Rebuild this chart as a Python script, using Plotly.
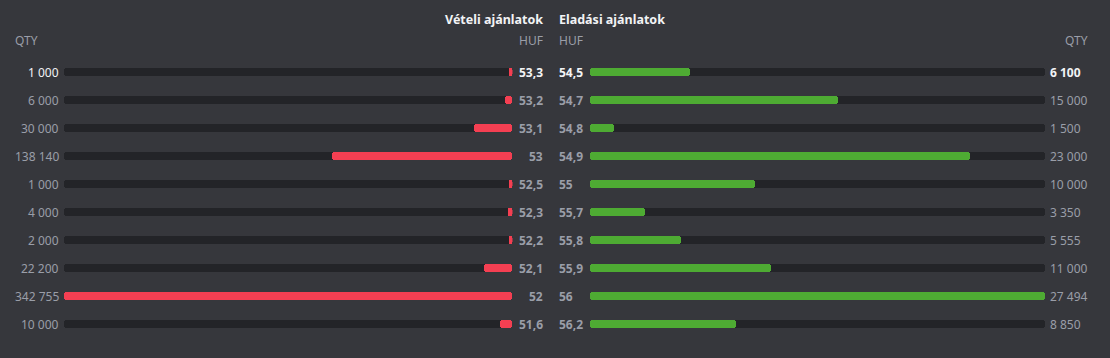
import plotly.graph_objects as go

# ---- data ----
bid_price = [53.3, 53.2, 53.1, 53.0, 52.5, 52.3, 52.2, 52.1, 52.0, 51.6]
bid_qty = [1000, 6000, 30000, 138140, 1000, 4000, 2000, 22200, 342755, 10000]
ask_price = [54.5, 54.7, 54.8, 54.9, 55.0, 55.7, 55.8, 55.9, 56.0, 56.2]
ask_qty = [6100, 15000, 1500, 23000, 10000, 3350, 5555, 11000, 27494, 8850]
title_bid = "Vételi ajánlatok"
title_ask = "Eladási ajánlatok"
col_qty = "QTY"
col_price = "HUF"

# ---- style ----
W, H = 1110, 358
BG = "#36373c"
TRACK = "#232428"
RED = "#f43f52"
GREEN = "#4eab33"
MUTED = "#9a9ea8"
WHITE = "#f2f3f5"
FONT = "Noto Sans"
L0, L1 = 63.5, 512.5      # bid track pixel extents
R0, R1 = 589.5, 1045.5    # ask track pixel extents
BAR_W = 8 / 28
MIN_PX = 4
TOP, BOTTOM = 58, 338
PAD = 2  # annotation inner padding compensation

rows = list(range(len(bid_qty)))
bmax = max(bid_qty)
amax = max(ask_qty)


def fmt_qty(q):
    return f"{q:,}".replace(",", " ")


def fmt_price(p):
    return f"{p:g}".replace(".", ",")


fig = go.Figure()


def add_pill(vals, color, xaxis, minlen):
    disp = [max(v, minlen) for v in vals]
    fig.add_trace(go.Bar(
        y=rows, x=disp, base=[0] * len(disp), orientation="h",
        width=BAR_W, marker=dict(color=color, cornerradius=4, line=dict(width=0)),
        xaxis=xaxis, yaxis="y", hoverinfo="skip", showlegend=False,
    ))


add_pill([bmax] * len(rows), TRACK, "x", 0)
add_pill(bid_qty, RED, "x", bmax * MIN_PX / (L1 - L0))
add_pill([amax] * len(rows), TRACK, "x2", 0)
add_pill(ask_qty, GREEN, "x2", amax * MIN_PX / (R1 - R0))

ann = []


def txt(x, y, text, anchor, color=MUTED, size=12, bold=False, yref="y"):
    x = x + PAD if anchor == "right" else x - PAD
    ann.append(dict(
        x=x / W, xref="paper", y=y, yref=yref, text=f"<b>{text}</b>" if bold else text,
        xanchor=anchor, yanchor="middle", showarrow=False,
        font=dict(family=FONT, size=size, color=color),
    ))


for i in rows:
    c = WHITE if i == 0 else MUTED
    txt(58.5, i, fmt_qty(bid_qty[i]), "right", c)
    txt(543, i, fmt_price(bid_price[i]), "right", c, bold=True)
    txt(558.5, i, fmt_price(ask_price[i]), "left", c, bold=True)
    txt(1049.5, i, fmt_qty(ask_qty[i]), "left", c, bold=(i == 0))


def hy(px):
    return (BOTTOM - px) / (BOTTOM - TOP)


txt(543, hy(19), title_bid, "right", WHITE, 12.5, True, "paper")
txt(558.5, hy(19), title_ask, "left", WHITE, 12.5, True, "paper")
txt(14.5, hy(40), col_qty, "left", MUTED, 12, False, "paper")
txt(543, hy(40), col_price, "right", MUTED, 12, False, "paper")
txt(558.5, hy(40), col_price, "left", MUTED, 12, False, "paper")
txt(1087.5, hy(40), col_qty, "right", MUTED, 12, False, "paper")

fig.update_layout(
    width=W, height=H, paper_bgcolor=BG, plot_bgcolor=BG,
    margin=dict(l=0, r=0, t=TOP, b=H - BOTTOM),
    barmode="overlay", bargap=0,
    annotations=ann,
    xaxis=dict(domain=[L0 / W, L1 / W], range=[bmax, 0], visible=False, fixedrange=True),
    xaxis2=dict(domain=[R0 / W, R1 / W], range=[0, amax], visible=False, anchor="y", fixedrange=True),
    yaxis=dict(range=[len(rows) - 0.5, -0.5], visible=False, fixedrange=True),
    font=dict(family=FONT),
)

fig.write_html(
    "out.html",
    config={"displayModeBar": False},
    post_script="document.body.style.margin='0';document.body.style.background='" + BG + "';",
)
